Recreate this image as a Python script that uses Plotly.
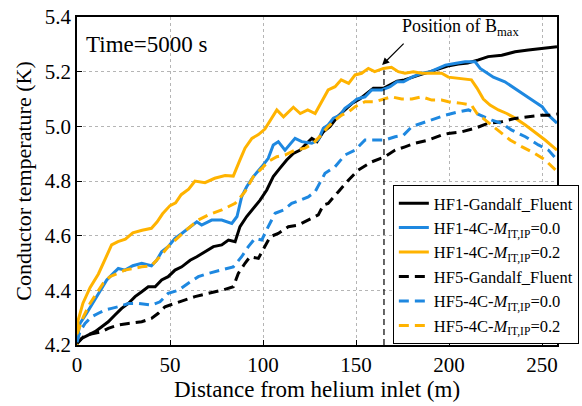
import plotly.graph_objects as go

# ---------------- data ----------------
hf1_gf_x = [0, 2.5, 6, 9.7, 13.3, 16.8, 20.4, 24, 27.6, 31.2, 34.8, 38.3, 42, 45.5, 49, 52.7, 56.3, 60.8, 64.4, 68.8,
            73.3, 77.8, 81.4, 85, 87.6, 91.2, 94.8, 98.4, 102, 105.5, 109, 112.7, 116.3, 120, 123.5, 126.2, 129, 132.4,
            136, 140, 144, 148, 152, 156, 159.3, 164.7, 168, 172, 176, 180, 185, 190, 195, 200, 205, 210, 215.8, 221,
            228.3, 235.5, 242.6, 249.8, 258]
hf1_gf_y = [4.206, 4.224, 4.236, 4.249, 4.267, 4.285, 4.31, 4.334, 4.352, 4.377, 4.395, 4.413, 4.413, 4.438, 4.45,
            4.474, 4.486, 4.51, 4.523, 4.541, 4.56, 4.566, 4.584, 4.578, 4.633, 4.67, 4.7, 4.73, 4.767, 4.816, 4.846,
            4.877, 4.901, 4.913, 4.938, 4.956, 4.944, 4.98, 5.0, 5.035, 5.06, 5.085, 5.1, 5.12, 5.139, 5.139, 5.15,
            5.165, 5.17, 5.18, 5.19, 5.2, 5.21, 5.222, 5.228, 5.232, 5.243, 5.255, 5.26, 5.273, 5.279, 5.285, 5.291]

hf1_m0_x = [0, 1.6, 5.2, 8.8, 12.4, 16, 19.5, 22.2, 25.8, 30, 34.8, 40, 42.8, 45.5, 49, 52.7, 56.3, 60.8, 64.4, 67,
            72.4, 77.8, 83.2, 86, 88.5, 91.2, 94.8, 99.3, 102.8, 105.5, 108.2, 111.8, 117.2, 120.8, 126.2, 129.7,
            132.4, 135, 137.8, 141.4, 144, 147.7, 150.4, 154.8, 158.4, 163.8, 168.3, 172, 175.5, 180, 185.3, 190,
            194.2, 198, 203, 208.6, 214, 216.7, 219.4, 223.8, 230, 235.5, 241, 246, 250, 253.4, 258]
hf1_m0_y = [4.22, 4.279, 4.316, 4.358, 4.395, 4.438, 4.462, 4.48, 4.474, 4.49, 4.499, 4.49, 4.51, 4.541, 4.56, 4.59,
            4.608, 4.633, 4.651, 4.639, 4.657, 4.657, 4.645, 4.67, 4.742, 4.779, 4.816, 4.852, 4.883, 4.932, 4.944,
            4.913, 4.956, 4.944, 4.938, 4.95, 4.993, 5.005, 5.03, 5.041, 5.066, 5.084, 5.1, 5.108, 5.133, 5.133,
            5.145, 5.163, 5.163, 5.18, 5.194, 5.2, 5.212, 5.224, 5.23, 5.236, 5.236, 5.212, 5.2, 5.18, 5.163, 5.139,
            5.115, 5.09, 5.072, 5.041, 5.012]

hf1_m2_x = [0, 0.6, 3.2, 7, 11.5, 15, 18.6, 22, 26, 30, 35, 40, 43, 46, 50, 53, 56, 60, 63.4, 68.8, 74, 79.6, 84,
            87.6, 90.3, 94, 97.5, 101, 103.8, 107.4, 111, 116.3, 120, 124, 128, 131.5, 135, 138.7, 142, 146, 149.5,
            153, 156.6, 160, 164.7, 169, 172.7, 176.3, 180.8, 185.3, 190, 196, 199.6, 206.8, 212, 215, 218.4, 222,
            226.5, 231, 235.5, 241, 246, 251.6, 258]
hf1_m2_y = [4.2, 4.29, 4.353, 4.41, 4.46, 4.51, 4.566, 4.578, 4.587, 4.61, 4.62, 4.627, 4.65, 4.68, 4.71, 4.72, 4.75,
            4.77, 4.8, 4.794, 4.81, 4.82, 4.818, 4.877, 4.92, 4.956, 4.97, 4.99, 5.023, 5.06, 5.035, 5.07, 5.047,
            5.06, 5.047, 5.09, 5.133, 5.145, 5.17, 5.157, 5.188, 5.194, 5.212, 5.2, 5.212, 5.216, 5.2, 5.194, 5.2,
            5.194, 5.194, 5.194, 5.18, 5.175, 5.17, 5.14, 5.1, 5.078, 5.06, 5.047, 5.03, 5.005, 4.98, 4.95, 4.913]

hf5_gf_x = [0, 4.3, 8.8, 13.3, 16.8, 22.2, 27.6, 34.8, 40, 43.7, 47.3, 52.7, 58, 63.4, 70.6, 77.8, 84, 86.7, 90.3,
            93, 97.5, 101, 103.8, 108.2, 113.6, 119, 124.3, 129.7, 132.4, 135, 140.5, 146, 151.2, 158.4, 165.6, 171,
            176.3, 181.7, 188.9, 196, 199.6, 206.8, 214, 221, 228.3, 235.5, 242.6, 249.8, 254, 258]
hf5_gf_y = [4.206, 4.236, 4.242, 4.249, 4.261, 4.273, 4.279, 4.285, 4.297, 4.316, 4.34, 4.352, 4.364, 4.377, 4.389,
            4.4, 4.413, 4.462, 4.499, 4.523, 4.517, 4.56, 4.596, 4.608, 4.633, 4.639, 4.657, 4.676, 4.712, 4.718,
            4.761, 4.804, 4.84, 4.87, 4.889, 4.913, 4.925, 4.938, 4.95, 4.968, 4.974, 4.98, 4.993, 5.011, 5.017,
            5.029, 5.035, 5.041, 5.041, 5.045]

hf5_m0_x = [0, 1.6, 4.3, 7.9, 11.5, 15, 18.6, 22.2, 27.6, 33, 40, 44.6, 49, 54.5, 59.8, 65.2, 70.6, 77.8, 84, 88.5,
            92.1, 95.7, 99.3, 102.8, 106.5, 111, 115.4, 120, 124.3, 128, 131.5, 133.3, 138.7, 144, 149.5, 154.8, 160,
            165.6, 171, 175.5, 180, 185.3, 190.7, 196, 198, 205, 210.4, 216.7, 223, 228.3, 233.7, 241, 248, 253.4, 258]
hf5_m0_y = [4.21, 4.249, 4.279, 4.303, 4.316, 4.328, 4.334, 4.34, 4.352, 4.352, 4.346, 4.358, 4.389, 4.4, 4.426,
            4.45, 4.462, 4.474, 4.486, 4.523, 4.56, 4.59, 4.584, 4.633, 4.682, 4.694, 4.718, 4.73, 4.742, 4.761,
            4.804, 4.828, 4.852, 4.895, 4.913, 4.95, 4.95, 4.95, 4.962, 4.968, 4.999, 5.011, 5.023, 5.035, 5.041,
            5.053, 5.06, 5.041, 5.023, 5.011, 4.986, 4.962, 4.932, 4.913, 4.878]

hf5_m2_x = [0, 3.4, 7, 10.6, 14.1, 17.7, 21.3, 25.8, 30.3, 34.8, 40, 44.6, 49, 54.5, 59.8, 65.2, 70.6, 77.8, 85,
            90.3, 94.8, 99.3, 102.8, 107.4, 111.8, 117.2, 122.6, 127, 131.5, 135, 138.7, 142.3, 146, 149.5, 154.8,
            160, 164.7, 169, 174.5, 180, 185.3, 190.7, 196, 199.6, 206.8, 212, 215, 219.4, 223.8, 228.3, 232.8, 239,
            246, 251.6, 258]
hf5_m2_y = [4.24, 4.303, 4.352, 4.389, 4.426, 4.45, 4.462, 4.474, 4.48, 4.486, 4.49, 4.523, 4.56, 4.596, 4.627,
            4.657, 4.676, 4.694, 4.718, 4.761, 4.816, 4.846, 4.871, 4.889, 4.895, 4.913, 4.92, 4.938, 4.97, 4.999,
            5.023, 5.041, 5.053, 5.072, 5.09, 5.09, 5.1, 5.108, 5.1, 5.1, 5.108, 5.096, 5.096, 5.09, 5.084, 5.078,
            5.047, 5.023, 4.999, 4.974, 4.95, 4.926, 4.901, 4.877, 4.835]

x_ticks = [0, 50, 100, 150, 200, 250]
y_ticks = [4.2, 4.4, 4.6, 4.8, 5.0, 5.2, 5.4]
y_tick_text = ["4.2", "4.4", "4.6", "4.8", "5.0", "5.2", "5.4"]
bmax_x = 165

BLACK = "#000000"
BLUE = "#1e88e0"
ORANGE = "#ffb300"
DASH = "10px,6px"
FONT = "Liberation Serif, Times New Roman, serif"

series = [
    ("HF1-Gandalf_Fluent", hf1_gf_x, hf1_gf_y, BLACK, "solid"),
    ("HF1-4C-<i>M</i><sub>IT,IP</sub>=0.0", hf1_m0_x, hf1_m0_y, BLUE, "solid"),
    ("HF1-4C-<i>M</i><sub>IT,IP</sub>=0.2", hf1_m2_x, hf1_m2_y, ORANGE, "solid"),
    ("HF5-Gandalf_Fluent", hf5_gf_x, hf5_gf_y, BLACK, DASH),
    ("HF5-4C-<i>M</i><sub>IT,IP</sub>=0.0", hf5_m0_x, hf5_m0_y, BLUE, DASH),
    ("HF5-4C-<i>M</i><sub>IT,IP</sub>=0.2", hf5_m2_x, hf5_m2_y, ORANGE, DASH),
]

fig = go.Figure()
for name, xs, ys, col, dash in series:
    fig.add_trace(go.Scatter(x=xs, y=ys, mode="lines", name=name,
                             line=dict(color=col, width=3, dash=dash)))

# vertical dashed line at position of Bmax
fig.add_shape(type="line", x0=bmax_x, x1=bmax_x, y0=4.2, y1=5.205, xref="x", yref="y",
              line=dict(color="black", width=1.2, dash="6px,4px"))

fig.add_annotation(x=164, y=5.224, xref="x", yref="y", text="", showarrow=True,
                   ax=23, ay=-23, arrowhead=2, arrowsize=1.2, arrowwidth=1.2, arrowcolor="black")
fig.add_annotation(x=206, y=5.36, xref="x", yref="y", text="Position of B<sub>max</sub>",
                   showarrow=False, xanchor="center", yanchor="middle",
                   font=dict(family=FONT, size=18, color="black"))
fig.add_annotation(x=3.8, y=5.298, xref="x", yref="y", text="Time=5000 s",
                   showarrow=False, xanchor="left", yanchor="middle",
                   font=dict(family=FONT, size=23, color="black"))
# y-axis title
fig.add_annotation(x=-0.113, y=0.5, xref="paper", yref="paper", text="Conductor temperature (K)",
                   showarrow=False, textangle=-90, xanchor="center", yanchor="middle",
                   font=dict(family=FONT, size=22, color="black"))

axis_common = dict(showline=True, linecolor="black", linewidth=1.5, mirror=True,
                   ticks="inside", ticklen=5, tickcolor="black", automargin=False,
                   ticklabeloverflow="allow",
                   showgrid=True, gridcolor="#b5b5b5", gridwidth=1, griddash="dot",
                   zeroline=False, tickfont=dict(family=FONT, size=21, color="black"))

fig.update_xaxes(range=[0, 258], tickvals=x_ticks, **axis_common,
                 title=dict(text="Distance from helium inlet (m)", standoff=0,
                            font=dict(family=FONT, size=23, color="black")))
fig.update_yaxes(range=[4.2, 5.4], tickvals=y_ticks, ticktext=y_tick_text, **axis_common)

fig.update_layout(
    width=582, height=406,
    margin=dict(l=77, r=25, t=17, b=61, autoexpand=False),
    plot_bgcolor="white", paper_bgcolor="white",
    font=dict(family=FONT, color="black"),
    legend=dict(x=0.658, y=0.488, xanchor="left", yanchor="top",
                bgcolor="white", bordercolor="black", borderwidth=1,
                font=dict(family=FONT, size=16.5, color="black"),
                tracegroupgap=0),
    showlegend=True,
)

# remove the default 8px page margin so the figure fills the window exactly
fig.write_html("out.html", config={"displayModeBar": False},
               post_script="document.body.style.margin='0';document.body.style.overflow='hidden';")
